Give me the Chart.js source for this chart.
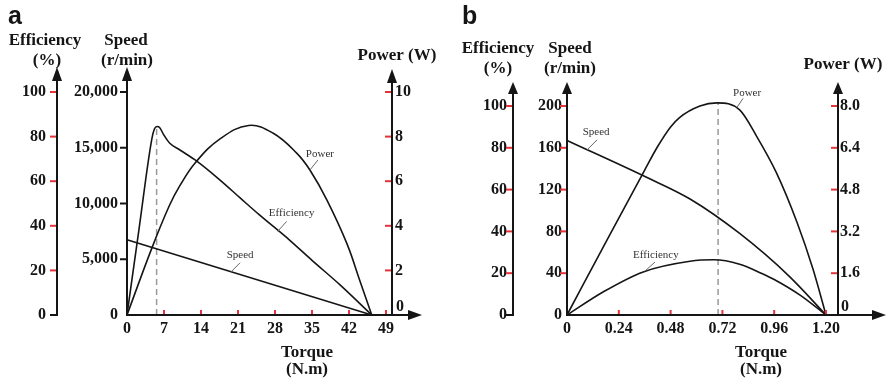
<!DOCTYPE html>
<html>
<head>
<meta charset="utf-8">
<title>Motor characteristics</title>
<script src="https://cdn.jsdelivr.net/npm/chart.js@4.4.1/dist/chart.umd.min.js"></script>
<style>
  html, body { margin: 0; padding: 0; background: #fff; }
  #wrap { position: relative; width: 887px; height: 382px; overflow: hidden; }
  #chartA { position: absolute; left: 0; top: 0; }
  #chartB { position: absolute; left: 443px; top: 0; }
</style>
</head>
<body>
<div id="wrap">
  <canvas id="chartA" width="443" height="382"></canvas>
  <canvas id="chartB" width="444" height="382"></canvas>
</div>
<script>
// ---- panel a : torque 0..49 N.m ----
const torqueTicksA = [0, 7, 14, 21, 28, 35, 42, 49];
const effTicks = [0, 20, 40, 60, 80, 100];
const speedTicksA = [0, 5000, 10000, 15000, 20000];
const powerTicksA = [0, 2, 4, 6, 8, 10];

const effTorqueA = [0, 2.3, 4.7, 5.2, 5.7, 6.2, 6.9, 8.1, 10, 13.2, 17.6, 21.4, 25, 30.8, 35, 40.3, 46.3];
const effA = [0, 39, 79, 83.5, 84.5, 84, 81, 77, 74, 69, 60.5, 52.5, 45, 33.5, 24.5, 13.5, 0];

const powerTorqueA = [0, 4.7, 8, 10, 13, 17.6, 23, 27.6, 32.1, 34.6, 37.8, 41.6, 44, 46.3];
const powerA = [0, 3.0, 4.9, 5.8, 6.85, 7.9, 8.5, 8.16, 7.26, 6.5, 5.16, 3.2, 1.57, 0];

const speedTorqueA = [0, 46.3];
const speedA = [6750, 0];

const peakTorqueA = 5.6;   // dashed marker at max efficiency
const peakEffA = 84.5;

// ---- panel b : torque 0..1.20 N.m ----
const torqueTicksB = [0, 0.24, 0.48, 0.72, 0.96, 1.2];
const speedTicksB = [0, 40, 80, 120, 160, 200];
const powerTicksB = [0, 1.6, 3.2, 4.8, 6.4, 8.0];

const speedTorqueB = [0, 0.366, 0.57, 0.80, 1.03, 1.2];
const speedB = [167, 132, 111, 78, 37, 0];

const powerTorqueB = [0, 0.2, 0.36, 0.42, 0.48, 0.52, 0.616, 0.695, 0.8, 0.88, 0.97, 1.066, 1.14, 1.2];
const powerB = [0, 3.1, 5.55, 6.45, 7.2, 7.55, 8.0, 8.12, 7.85, 6.82, 5.45, 3.54, 1.75, 0];

const effTorqueB = [0, 0.167, 0.35, 0.57, 0.68, 0.8, 0.9, 0.96, 1.08, 1.2];
const effB = [0, 11, 20.5, 25.7, 26.4, 24.3, 20, 17, 9.5, 0];

const peakTorqueB = 0.70;  // dashed marker at max power
const peakPowerB = 8.12;

// ---- look ----
const SERIF = "'Liberation Serif', 'Times New Roman', serif";
const INK = '#151515';
const RED = '#e3343a';
const TICK_FONT = { family: SERIF, size: 16, weight: 'bold' };

const pts = (xs, ys) => xs.map((t, i) => ({ x: t, y: ys[i] }));
const withCommas = v => String(v).replace(/\B(?=(\d{3})+(?!\d))/g, ',');

function yAxis(pos, weight, width, max, ticks, pad, fmt) {
    return {
        type: 'linear', axis: 'y', position: pos, weight: weight, min: 0, max: max,
        grid: { display: false, drawTicks: false },
        border: { display: false },
        ticks: { autoSkip: false, padding: pad, color: INK, font: TICK_FONT, callback: fmt },
        afterBuildTicks: s => { s.ticks = ticks.map(v => ({ value: v })); },
        afterFit: s => { s.width = width; }
    };
}

function curve(data, axisId, smooth) {
    const ds = {
        data: data, yAxisID: axisId, borderColor: INK, borderWidth: 1.6, clip: false,
        pointRadius: 0, fill: false
    };
    // bezier for the broad humps, monotone where a sharp peak must not overshoot
    if (smooth) ds.tension = 0.4;
    else ds.cubicInterpolationMode = 'monotone';
    return ds;
}

function buildPanel(canvasId, p) {
    const decor = {
        id: 'decor',
        afterDraw(chart) {
            const { ctx } = chart;
            const { x, eff, speed, power } = chart.scales;
            const y0 = x.top;
            const seg = (x1, y1, x2, y2, col, w) => {
                ctx.strokeStyle = col; ctx.lineWidth = w;
                ctx.beginPath(); ctx.moveTo(x1, y1); ctx.lineTo(x2, y2); ctx.stroke();
            };
            const arrowUp = (ax, tip, len) => {
                ctx.fillStyle = INK; ctx.beginPath();
                ctx.moveTo(ax, tip); ctx.lineTo(ax - 5, tip + len); ctx.lineTo(ax + 5, tip + len);
                ctx.closePath(); ctx.fill();
            };
            ctx.save();

            // vertical axes with arrows
            const effX = eff.right, speedX = speed.right, powerX = power.left;
            [[effX, p.arrowTop], [speedX, p.arrowTop], [powerX, p.powerArrowTop]].forEach(([ax, tip]) => {
                seg(ax, y0 + 1, ax, tip + p.arrowLen - 2, INK, 2);
                arrowUp(ax, tip, p.arrowLen);
            });
            // torque axis with arrow
            seg(speedX - 1, y0, p.xArrowTip - 12, y0, INK, 2);
            ctx.fillStyle = INK; ctx.beginPath();
            ctx.moveTo(p.xArrowTip, y0); ctx.lineTo(p.xArrowTip - 14, y0 - 5); ctx.lineTo(p.xArrowTip - 14, y0 + 5);
            ctx.closePath(); ctx.fill();

            // tick marks
            effTicks.forEach(v => {
                const y = eff.getPixelForValue(v);
                seg(effX - 7, y, effX - 1, y, v === 0 ? INK : RED, 2);
            });
            p.speedTicks.forEach(v => {
                if (v === 0) return;
                const y = speed.getPixelForValue(v);
                seg(speedX - 7, y, speedX - 1, y, p.speedTickColor, 2);
            });
            p.powerTicks.forEach(v => {
                if (v === 0) return;
                const y = power.getPixelForValue(v);
                seg(powerX - 7, y, powerX - 1, y, RED, 2);
            });
            p.torqueTicks.forEach(v => {
                if (v === 0) return;
                const xx = x.getPixelForValue(v);
                seg(xx, y0 - 5, xx, y0 - 1, RED, 2);
            });

            // power "0" sits just above the torque arrow
            ctx.fillStyle = INK;
            ctx.font = 'bold 16px ' + SERIF;
            ctx.textAlign = 'left'; ctx.textBaseline = 'middle';
            ctx.fillText('0', powerX + p.powerPad + 1, y0 - 8);

            // axis titles
            ctx.font = 'bold 17px ' + SERIF;
            ctx.textAlign = 'center';
            p.titles.forEach(([txt, tx, ty]) => ctx.fillText(txt, tx, ty));

            // panel letter
            ctx.font = 'bold 25px "Liberation Sans", Arial, sans-serif';
            ctx.textAlign = 'left'; ctx.textBaseline = 'alphabetic';
            ctx.fillText(p.letter, p.letterX, 24);

            // curve labels with leader lines
            ctx.font = '11px ' + SERIF;
            ctx.textAlign = 'center'; ctx.textBaseline = 'middle';
            p.curveLabels.forEach(c => {
                const sc = chart.scales[c.axis];
                const ax = x.getPixelForValue(c.t), ay = sc.getPixelForValue(c.v);
                seg(ax, ay, ax + c.lead[0], ay + c.lead[1], '#666', 1);
                ctx.fillStyle = '#333';
                ctx.fillText(c.text, ax + c.off[0], ay + c.off[1]);
            });
            ctx.restore();
        }
    };

    return new Chart(document.getElementById(canvasId), {
        type: 'line',
        data: { datasets: p.datasets },
        options: {
            responsive: false,
            animation: false,
            events: [],
            layout: { padding: { top: p.topPad, left: 0, right: 0, bottom: 0 } },
            plugins: { legend: { display: false }, tooltip: { enabled: false } },
            scales: {
                x: {
                    type: 'linear', position: 'bottom', min: 0, max: p.xMax,
                    grid: { display: false, drawTicks: false },
                    border: { display: false },
                    ticks: { autoSkip: false, maxRotation: 0, padding: 4, color: INK, font: TICK_FONT, callback: p.torqueFmt },
                    afterBuildTicks: s => { s.ticks = p.torqueTicks.map(v => ({ value: v })); },
                    afterFit: s => { s.height = 67; }
                },
                eff: yAxis('left', 2, p.effW, 100, effTicks, p.effPad, v => String(v)),
                speed: yAxis('left', 1, p.speedW, p.speedMax, p.speedTicks, p.speedPad, p.speedFmt),
                power: yAxis('right', 1, p.powerW, p.powerMax, p.powerTicks, p.powerPad, p.powerFmt)
            }
        },
        plugins: [decor]
    });
}

buildPanel('chartA', {
    letter: 'a', letterX: 8,
    effW: 57, speedW: 70, powerW: 51, topPad: 92, xMax: 50.13,
    effPad: 11, speedPad: 9, powerPad: 3,
    speedMax: 20000, powerMax: 10,
    speedTicks: speedTicksA, powerTicks: powerTicksA, torqueTicks: torqueTicksA,
    speedTickColor: INK,
    speedFmt: v => withCommas(v), powerFmt: v => (v === 0 ? '' : String(v)), torqueFmt: v => String(v),
    arrowTop: 67, powerArrowTop: 69, arrowLen: 14, xArrowTip: 422,
    titles: [['Efficiency', 45, 41], ['(%)', 47, 61], ['Speed', 126, 41], ['(r/min)', 127, 61],
             ['Power (W)', 397, 56], ['Torque', 307, 353], ['(N.m)', 307, 370]],
    curveLabels: [
        { text: 'Power', axis: 'power', t: 34.6, v: 6.5, lead: [8, -10], off: [10, -16] },
        { text: 'Efficiency', axis: 'eff', t: 28.5, v: 37.5, lead: [9, -10], off: [14, -18] },
        { text: 'Speed', axis: 'speed', t: 19.7, v: 3880, lead: [9, -9], off: [9, -17] }
    ],
    datasets: [
        curve(pts(effTorqueA, effA), 'eff', false),
        curve(pts(powerTorqueA, powerA), 'power', true),
        curve(pts(speedTorqueA, speedA), 'speed', false),
        { data: pts([peakTorqueA, peakTorqueA], [0, peakEffA]), yAxisID: 'eff', borderColor: '#9a9a9a',
          borderWidth: 1.5, borderDash: [6, 4], pointRadius: 0, fill: false }
    ]
});

buildPanel('chartB', {
    letter: 'b', letterX: 19,
    effW: 70, speedW: 54, powerW: 49, topPad: 106, xMax: 1.2556,
    effPad: 6, speedPad: 5, powerPad: 2,
    speedMax: 200, powerMax: 8,
    speedTicks: speedTicksB, powerTicks: powerTicksB, torqueTicks: torqueTicksB,
    speedTickColor: RED,
    speedFmt: v => String(v), powerFmt: v => (v === 0 ? '' : v.toFixed(1)),
    torqueFmt: v => (v === 0 ? '0' : v.toFixed(2)),
    arrowTop: 82, powerArrowTop: 82, arrowLen: 12, xArrowTip: 443,
    titles: [['Efficiency', 55, 49], ['(%)', 55, 69], ['Speed', 127, 49], ['(r/min)', 127, 69],
             ['Power (W)', 400, 65], ['Torque', 318, 353], ['(N.m)', 318, 370]],
    curveLabels: [
        { text: 'Power', axis: 'power', t: 0.788, v: 7.95, lead: [6, -9], off: [10, -14] },
        { text: 'Speed', axis: 'speed', t: 0.093, v: 158, lead: [10, -10], off: [9, -18] },
        { text: 'Efficiency', axis: 'eff', t: 0.361, v: 21, lead: [10, -9], off: [11, -16] }
    ],
    datasets: [
        curve(pts(speedTorqueB, speedB), 'speed', false),
        curve(pts(powerTorqueB, powerB), 'power', false),
        curve(pts(effTorqueB, effB), 'eff', false),
        { data: pts([peakTorqueB, peakTorqueB], [0, peakPowerB]), yAxisID: 'power', borderColor: '#9a9a9a',
          borderWidth: 1.5, borderDash: [6, 4], pointRadius: 0, fill: false, clip: false }
    ]
});
</script>
</body>
</html>
